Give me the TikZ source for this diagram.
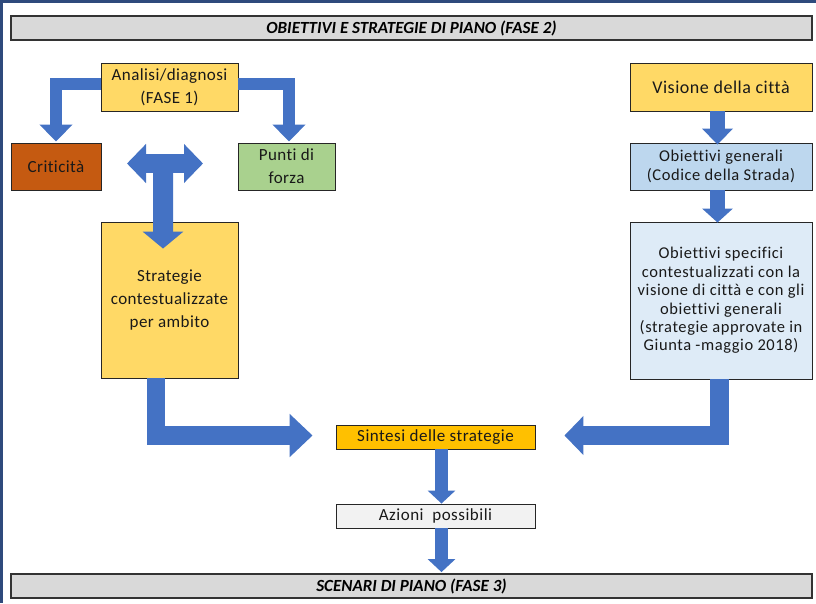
\documentclass[tikz,border=0pt]{standalone}
\usepackage{fontspec}
\setmainfont{Carlito}[Ligatures={NoCommon,NoContextual}]
\usetikzlibrary{arrows.meta,calc}
\definecolor{navy}{HTML}{2F4A7C}
\definecolor{ablue}{HTML}{4472C4}
\definecolor{byellow}{HTML}{FFD966}
\definecolor{borange}{HTML}{C55A11}
\definecolor{bgreen}{HTML}{A9D18E}
\definecolor{blblue}{HTML}{BDD7EE}
\definecolor{bllblue}{HTML}{DEEBF7}
\definecolor{bgold}{HTML}{FFC000}
\definecolor{bgrey}{HTML}{F2F2F2}
\definecolor{hgrey}{HTML}{D9D9D9}
\begin{document}
\begin{tikzpicture}[x=1pt,y=-1pt,
  box/.style={draw=black!85,line width=0.9pt,inner sep=0pt,align=center,text=black!90,
    font=\fontsize{17}{23}\selectfont\addfontfeature{LetterSpace=2.5}},
  rbox/.style={box,font=\fontsize{16.5}{18.4}\selectfont\addfontfeature{LetterSpace=3.5}},
  band/.style={draw=black!80,line width=1.8pt,fill=hgrey,minimum width=801pt,minimum height=24pt,
    inner sep=0pt,font=\fontsize{17}{19}\selectfont\bfseries\itshape},
  barrow/.style={color=ablue,line width=#1,line join=miter,line cap=butt}
]
\useasboundingbox (0,0) rectangle (816,603);
\fill[white] (0,0) rectangle (816,603);
\fill[navy] (0,0) rectangle (816,3);
\fill[navy] (0,0) rectangle (2.5,603);

% bands
\node[band] (hdr) at (411.5,28) {OBIETTIVI E STRATEGIE DI PIANO (FASE 2)};
\node[band] (ftr) at (411.5,586) {SCENARI DI PIANO (FASE 3)};

% left column
\node[box,fill=byellow,minimum width=137pt,minimum height=48pt] (ana) at (169.5,87) {Analisi/diagnosi\\(FASE 1)};
\node[box,fill=borange,minimum width=90pt,minimum height=47pt] (crit) at (56,166.5) {Criticità};
\node[box,fill=bgreen,minimum width=97pt,minimum height=47pt] (punti) at (286.5,166.5) {Punti di\\forza};
\node[box,fill=byellow,minimum width=137pt,minimum height=156pt] (strat) at (169.5,300) {Strategie\\contestualizzate\\per ambito};

% right column
\node[rbox,fill=byellow,minimum width=182pt,minimum height=48pt,font=\fontsize{18}{20}\selectfont\addfontfeature{LetterSpace=3}] (vis) at (721,87) {Visione della città};
\node[rbox,fill=blblue,minimum width=182pt,minimum height=47pt] (gen) at (721,166.5) {Obiettivi generali\\(Codice della Strada)};
\node[rbox,fill=bllblue,minimum width=182pt,minimum height=157pt] (spec) at (721,300.5) {Obiettivi specifici\\contestualizzati con la\\visione di città e con gli\\obiettivi generali\\(strategie approvate in\\Giunta -maggio 2018)};

% centre
\node[box,fill=bgold,minimum width=199pt,minimum height=24pt,font=\fontsize{17}{19}\selectfont\addfontfeature{LetterSpace=3}] (sint) at (435.5,437) {Sintesi delle strategie};
\node[box,fill=bgrey,minimum width=199pt,minimum height=24pt,font=\fontsize{17}{19}\selectfont\addfontfeature{LetterSpace=3}] (az) at (435.5,516) {Azioni\ \ possibili};

% arrows from Analisi
\draw[barrow=12pt,-{Triangle[width=32pt,length=17pt]}]
  ($(ana.west)+(0,-3.5)$) -| ($(crit.north)+(0,-1)$);
\draw[barrow=12pt,-{Triangle[width=32pt,length=17pt]}]
  ($(ana.east)+(0,-3.5)$) -| ($(punti.north)+(2.5,-1)$);

% T double arrow
\coordinate (tl) at (127,163.5);
\coordinate (tr) at (203,163.5);
\draw[barrow=19pt,{Triangle[width=38pt,length=19pt]}-{Triangle[width=38pt,length=19pt]}] (tl) -- (tr);
\draw[barrow=20pt,-{Triangle[width=40pt,length=17pt]}] ($(tl)!0.474!(tr)$) -- ($(strat.north)+(-6.5,27)$);

% strat -> sint
\draw[barrow=18.5pt,-{Triangle[width=42pt,length=23pt]}]
  ($(strat.south)+(-13.5,0)$) |- ($(sint.west)+(-23,-1.5)$);
% spec -> sint
\draw[barrow=19pt,-{Triangle[width=38pt,length=19pt]}]
  ($(spec.south)+(-1.5,0)$) |- ($(sint.east)+(29,-1.5)$);

% right chain
\draw[barrow=15pt,-{Triangle[width=30pt,length=16pt]}] ($(vis.south)+(-3.5,0)$) -- ($(gen.north)+(-3.5,2)$);
\draw[barrow=15pt,-{Triangle[width=30pt,length=14pt]}] ($(gen.south)+(-3.5,0)$) -- ($(spec.north)+(-3.5,1)$);

% centre chain
\draw[barrow=13pt,-{Triangle[width=27pt,length=13pt]}] ($(sint.south)+(6,0)$) -- ($(az.north)+(6,0)$);
\draw[barrow=13pt,-{Triangle[width=27pt,length=13pt]}] ($(az.south)+(6,0)$) -- ($(ftr.north)+(30,-1)$);
\end{tikzpicture}
\end{document}
